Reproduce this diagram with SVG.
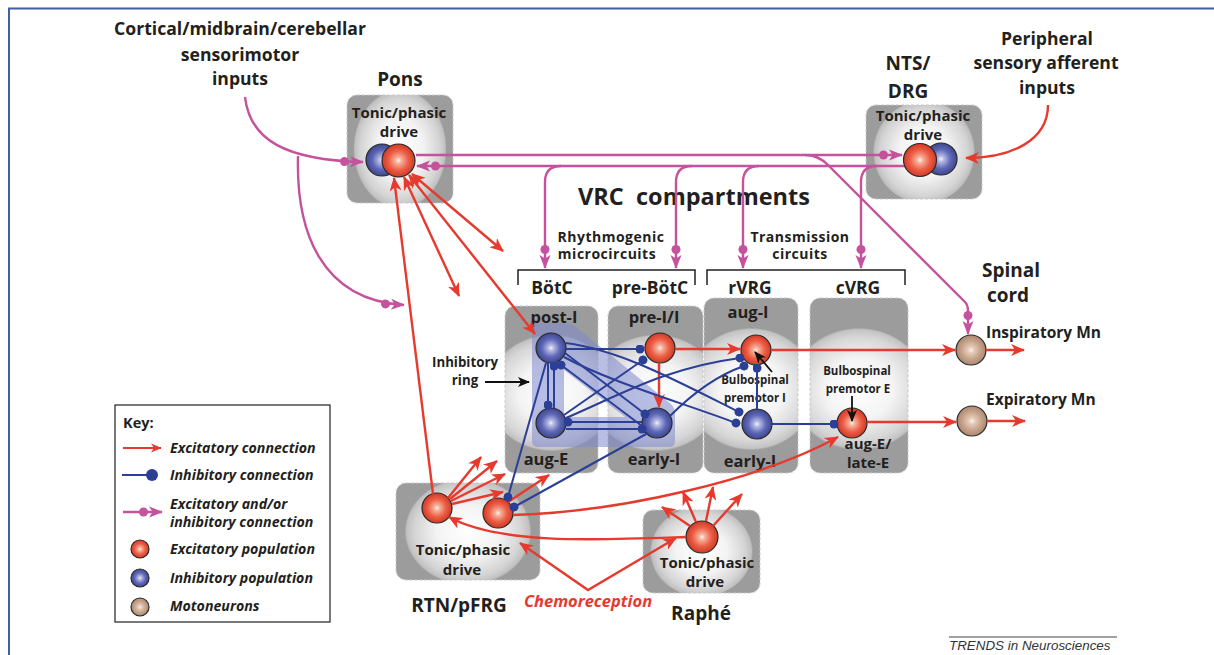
<svg xmlns="http://www.w3.org/2000/svg" width="1214" height="655" viewBox="0 0 1214 655">
  <style>
    .t { font-family: "Open Sans", "Liberation Sans", sans-serif; font-weight: 700; fill: #231f20; text-anchor: middle; }
    .h1 { font-size: 23.5px; }
    .h2 { font-size: 19px; }
    .h3 { font-size: 17.6px; }
    .col { font-size: 17.5px; }
    .lab { font-size: 16.5px; }
    .drv { font-size: 15px; }
    .sub { font-size: 14px; letter-spacing: 0.5px; }
    .sm { font-size: 11.5px; }
    .key { font-family: "Open Sans", "Liberation Sans", sans-serif; font-weight: 700; font-style: italic; font-size: 14.2px; fill: #231f20; }
    .chemo { font-family: "Open Sans", "Liberation Sans", sans-serif; font-weight: 700; font-style: italic; font-size: 16.5px; fill: #e63a2e; text-anchor: middle; }
    .box { stroke: #c9c9c9; stroke-width: 1; stroke-dasharray: 3 2; }
    .tall { fill: url(#glowTall); }
    .sq { fill: url(#glowSq); }
    .cell { stroke: #2a2a2a; stroke-width: 1.2; }
    .exc { fill: url(#gRed); }
    .inh { fill: url(#gBlue); }
    .mn { fill: url(#gTan); }
    .rd { fill: none; stroke: #e63a2e; stroke-width: 2.4; marker-end: url(#arR); }
    .rd2 { marker-start: url(#arR); }
    .bl { fill: none; stroke: #2b3f96; stroke-width: 2; marker-end: url(#dotB); }
    .pk { fill: none; stroke: #c4529c; stroke-width: 2.4; marker-end: url(#arP); }
    .pkl { fill: none; stroke: #c4529c; stroke-width: 2.4; }
    .bk { fill: none; stroke: #111; stroke-width: 1.8; marker-end: url(#arK); }
  </style>
  <defs>
    <radialGradient id="glowTall" cx="0.5" cy="0.52" r="0.5" gradientTransform="translate(0.5 0.52) scale(1.4 0.7) translate(-0.5 -0.52)">
      <stop offset="0" stop-color="#ffffff"/>
      <stop offset="0.5" stop-color="#f4f4f4"/>
      <stop offset="0.85" stop-color="#d6d6d6"/>
      <stop offset="0.97" stop-color="#c3c3c3"/>
      <stop offset="1" stop-color="#9c9c9c"/>
    </radialGradient>
    <radialGradient id="glowSq" cx="0.5" cy="0.5" r="0.5" gradientTransform="translate(0.5 0.5) scale(0.88 1.1) translate(-0.5 -0.5)">
      <stop offset="0" stop-color="#ffffff"/>
      <stop offset="0.5" stop-color="#f3f3f3"/>
      <stop offset="0.85" stop-color="#d4d4d4"/>
      <stop offset="0.97" stop-color="#c0c0c0"/>
      <stop offset="1" stop-color="#9c9c9c"/>
    </radialGradient>
    <radialGradient id="gRed" cx="0.5" cy="0.5" r="0.5">
      <stop offset="0" stop-color="#fff3ec"/>
      <stop offset="0.18" stop-color="#f6b29c"/>
      <stop offset="0.6" stop-color="#ec5e46"/>
      <stop offset="1" stop-color="#d23925"/>
    </radialGradient>
    <radialGradient id="gBlue" cx="0.5" cy="0.5" r="0.5">
      <stop offset="0" stop-color="#f2f2fb"/>
      <stop offset="0.18" stop-color="#b6bbe4"/>
      <stop offset="0.6" stop-color="#5f68b6"/>
      <stop offset="1" stop-color="#3d468f"/>
    </radialGradient>
    <radialGradient id="gTan" cx="0.5" cy="0.5" r="0.5">
      <stop offset="0" stop-color="#fbf2ea"/>
      <stop offset="0.2" stop-color="#e6cdbb"/>
      <stop offset="0.6" stop-color="#c9a58d"/>
      <stop offset="1" stop-color="#ab8770"/>
    </radialGradient>
    <marker id="arR" viewBox="0 0 14 12" refX="13" refY="6" markerWidth="14" markerHeight="12" orient="auto-start-reverse" markerUnits="userSpaceOnUse">
      <path d="M0,0 L14,6 L0,12 L4,6 Z" fill="#e63a2e"/>
    </marker>
    <marker id="arRs" viewBox="0 0 14 12" refX="13" refY="6" markerWidth="11" markerHeight="9.5" orient="auto" markerUnits="userSpaceOnUse">
      <path d="M0,0 L14,6 L0,12 L4,6 Z" fill="#e63a2e"/>
    </marker>
    <marker id="dotB" viewBox="0 0 10 10" refX="5" refY="5" markerWidth="9" markerHeight="9" orient="auto" markerUnits="userSpaceOnUse">
      <circle cx="5" cy="5" r="5" fill="#2b3f96"/>
    </marker>
    <marker id="dotBk" viewBox="0 0 10 10" refX="5" refY="5" markerWidth="12" markerHeight="12" orient="auto" markerUnits="userSpaceOnUse">
      <circle cx="5" cy="5" r="5" fill="#2b3f96"/>
    </marker>
    <marker id="arP" viewBox="0 0 24 12" refX="23" refY="6" markerWidth="24" markerHeight="12" orient="auto" markerUnits="userSpaceOnUse">
      <circle cx="4.5" cy="6" r="4.5" fill="#c4529c"/>
      <path d="M10,0.5 L24,6 L10,11.5 L13.5,6 Z" fill="#c4529c"/>
    </marker>
    <marker id="arK" viewBox="0 0 12 10" refX="11" refY="5" markerWidth="12" markerHeight="10" orient="auto" markerUnits="userSpaceOnUse">
      <path d="M0,0 L12,5 L0,10 L3,5 Z" fill="#111"/>
    </marker>
  </defs>

  <rect width="1214" height="655" fill="#ffffff"/>
  <!-- page frame -->
  <path d="M9,655 L9,8.5 L1214,8.5" fill="none" stroke="#3f5fa6" stroke-width="2"/>

  <!-- input labels -->
  <g id="cortical-inputs">
    <text class="t h3" x="240" y="35">Cortical/midbrain/cerebellar</text>
    <text class="t h3" x="240" y="61">sensorimotor</text>
    <text class="t h3" x="240" y="85">inputs</text>
  </g>
  <g id="peripheral-inputs">
    <text class="t h3" x="1047" y="45">Peripheral</text>
    <text class="t h3" x="1046" y="69">sensory afferent</text>
    <text class="t h3" x="1047" y="94">inputs</text>
  </g>

  <!-- Pons -->
  <g id="pons">
    <text class="t h2" x="400" y="86">Pons</text>
    <rect class="box sq" x="347" y="95" width="106" height="108" rx="10"/>
    <text class="t drv" x="399" y="118">Tonic/phasic</text>
    <text class="t drv" x="399" y="137">drive</text>
  </g>

  <!-- NTS/DRG -->
  <g id="nts-drg">
    <text class="t h2" x="908" y="70">NTS/</text>
    <text class="t h2" x="908" y="98">DRG</text>
    <rect class="box sq" x="866" y="105" width="116" height="94" rx="10"/>
    <text class="t drv" x="923" y="121">Tonic/phasic</text>
    <text class="t drv" x="923" y="140">drive</text>
  </g>

  <!-- VRC headings -->
  <g id="vrc-heading">
    <text class="t h1" x="694" y="205" xml:space="preserve">VRC  compartments</text>
    <text class="t sub" x="611" y="242">Rhythmogenic</text>
    <text class="t sub" x="607" y="259">microcircuits</text>
    <text class="t sub" x="800" y="242">Transmission</text>
    <text class="t sub" x="800" y="259">circuits</text>
    <path d="M518,285 L518,270 L695,270 L695,285 M707,285 L707,270 L905,270 L905,285" fill="none" stroke="#231f20" stroke-width="1.5"/>
  </g>

  <!-- VRC compartments -->
  <g id="botc">
    <text class="t col" x="552" y="294">BötC</text>
    <rect class="box tall" x="505" y="306" width="93" height="167" rx="10"/>
    <text class="t lab" x="554" y="323">post-I</text>
    <text class="t lab" x="546" y="465">aug-E</text>
  </g>
  <g id="pre-botc">
    <text class="t col" x="650" y="294">pre-BötC</text>
    <rect class="box tall" x="608" y="306" width="95" height="167" rx="10"/>
    <text class="t lab" x="654" y="323">pre-I/I</text>
    <text class="t lab" x="654" y="465">early-I</text>
  </g>
  <g id="rvrg">
    <text class="t col" x="750" y="294">rVRG</text>
    <rect class="box tall" x="704" y="298" width="94" height="175" rx="10"/>
    <text class="t lab" x="748" y="318">aug-I</text>
    <text class="t lab" x="750" y="467">early-I</text>
    <text class="t sm" x="755" y="384">Bulbospinal</text>
    <text class="t sm" x="755" y="402">premotor I</text>
  </g>
  <g id="cvrg">
    <text class="t col" x="858" y="294">cVRG</text>
    <rect class="box tall" x="810" y="298" width="98" height="175" rx="10"/>
    <text class="t sm" x="857" y="375">Bulbospinal</text>
    <text class="t sm" x="858" y="393">premotor E</text>
    <text class="t lab" x="868" y="449" style="font-size:15px">aug-E/</text>
    <text class="t lab" x="868" y="468" style="font-size:15px">late-E</text>
  </g>

  <!-- inhibitory ring band -->
  <g id="inhibitory-ring">
    <path d="M537,323 L565,323 Q571,323 576,327 L671,404 Q675,408 675,414 L675,441 Q675,447 669,447 L538,447 Q532,447 532,441 L532,328 Q532,323 537,323 Z M564,370 L564,417 L625,417 Z" fill="#7f8acd" fill-opacity="0.55" fill-rule="evenodd"/>
    <text class="t sm" x="465" y="367" style="font-size:13.3px">Inhibitory</text>
    <text class="t sm" x="465" y="385" style="font-size:13.3px">ring</text>
  </g>

  <!-- RTN/pFRG -->
  <g id="rtn-pfrg">
    <rect class="box sq" x="396" y="483" width="144" height="97" rx="10"/>
    <text class="t drv" x="463" y="555">Tonic/phasic</text>
    <text class="t drv" x="462" y="575">drive</text>
    <text class="t h2" x="459" y="612">RTN/pFRG</text>
  </g>

  <!-- Raphe -->
  <g id="raphe">
    <rect class="box sq" x="643" y="510" width="117" height="83" rx="10"/>
    <text class="t drv" x="707" y="568">Tonic/phasic</text>
    <text class="t drv" x="705" y="587">drive</text>
    <text class="t h2" x="701" y="620">Raphé</text>
  </g>

  <!-- Spinal cord -->
  <g id="spinal-cord">
    <text class="t h2" x="1011" y="277">Spinal</text>
    <text class="t h2" x="1008" y="302">cord</text>
    <text class="t lab" x="986" y="338" style="text-anchor:start;font-size:15.5px">Inspiratory Mn</text>
    <text class="t lab" x="986" y="405" style="text-anchor:start;font-size:15.5px">Expiratory Mn</text>
  </g>

  <!-- neuron populations -->
  <g id="pons-inh"><circle class="cell inh" cx="382" cy="160" r="16"/></g>
  <g id="pons-exc"><circle class="cell exc" cx="398.5" cy="160.5" r="16.5"/></g>
  <g id="nts-inh"><circle class="cell inh" cx="941" cy="159" r="16"/></g>
  <g id="nts-exc"><circle class="cell exc" cx="920" cy="160" r="16.5"/></g>
  <g id="post-i"><circle class="cell inh" cx="551" cy="348" r="15"/></g>
  <g id="aug-e"><circle class="cell inh" cx="551" cy="423" r="15"/></g>
  <g id="pre-i"><circle class="cell exc" cx="660" cy="348" r="15"/></g>
  <g id="early-i-prebotc"><circle class="cell inh" cx="657" cy="423" r="15"/></g>
  <g id="aug-i"><circle class="cell exc" cx="756" cy="350" r="15"/></g>
  <g id="early-i-rvrg"><circle class="cell inh" cx="757" cy="424" r="15"/></g>
  <g id="aug-e-late-e"><circle class="cell exc" cx="852" cy="423" r="15"/></g>
  <g id="rtn-1"><circle class="cell exc" cx="437" cy="508" r="15"/></g>
  <g id="rtn-2"><circle class="cell exc" cx="498" cy="513" r="15"/></g>
  <g id="raphe-cell"><circle class="cell exc" cx="702" cy="537" r="16"/></g>
  <g id="insp-mn"><circle class="cell mn" cx="971" cy="350" r="15"/></g>
  <g id="exp-mn"><circle class="cell mn" cx="972" cy="421" r="15"/></g>

  <!-- connectors -->
  <g id="connectors">
    <!-- excitatory and/or inhibitory -->
    <path class="pk" d="M245,97 C250,140 285,160 363,162"/>
    <path class="pk" d="M298,156 C296,230 320,300 404,305"/>
    <path class="pk" d="M416,155 L902,155"/>
    <path class="pk" d="M904,166 L417,166"/>
    <path class="pk" d="M561,166 Q545,166 545,182 L545,268"/>
    <path class="pk" d="M692,166 Q676,166 676,182 L676,268"/>
    <path class="pk" d="M759,166 Q743,166 743,182 L743,268"/>
    <path class="pk" d="M877,166 Q861,166 861,182 L861,268"/>
    <path class="pk" d="M805,155 Q818,155 828,165 L965,302 Q968,305 968,311 L968,334"/>

    <!-- excitatory -->
    <path class="rd" d="M1048,105 C1048,140 1012,158 966,158"/>
    <path class="rd" d="M433,494 L394,178"/>
    <path class="rd rd2" d="M404,177 L459,296"/>
    <path class="rd rd2" d="M412,174 L503,251"/>
    <path class="rd rd2" d="M409,175 L535,334"/>
    <path class="rd" d="M675,349 L740,349"/>
    <path class="rd" d="M659,363 L659,407"/>
    <path class="rd" d="M771,350 L955,350"/>
    <path class="rd" d="M986,350 L1024,350"/>
    <path class="rd" d="M867,422 L956,422"/>
    <path class="rd" d="M987,421 L1025,421"/>
    <path class="rd" d="M513,515 C620,512 760,480 838,437"/>
    <path class="rd" d="M448,498 L481,457"/>
    <path class="rd" d="M450,499 L497,461"/>
    <path class="rd" d="M451,501 L505,474"/>
    <path class="rd" d="M452,504 L503,492"/>
    <path class="rd" d="M508,502 L549,475"/>
    <path class="rd" d="M690,526 L662,507"/>
    <path class="rd" d="M696,522 L683,492"/>
    <path class="rd" d="M706,521 L713,487"/>
    <path class="rd" d="M713,526 L742,494"/>
    <path class="rd" d="M686,537 C600,540 500,545 449,517"/>
    <path class="rd rd2" d="M520,543 L588,590 L676,538"/>

    <!-- inhibitory -->
    <path class="bl" d="M566,349 L640,349"/>
    <path class="bl" d="M564,415 L643,360"/>
    <path class="bl" d="M566,418 C620,395 665,368 740,358"/>
    <path class="bl" d="M670,416 C690,396 715,376 744,366"/>
    <path class="bl" d="M565,353 L645,414"/>
    <path class="bl" d="M642,426 L561,365"/>
    <path class="bl" d="M566,343 C620,350 675,380 739,412"/>
    <path class="bl" d="M564,357 C610,382 680,402 736,423"/>
    <path class="bl" d="M548,363 L548,405"/>
    <path class="bl" d="M554,408 L554,366"/>
    <path class="bl" d="M642,422 L568,422"/>
    <path class="bl" d="M566,429 L642,429"/>
    <path class="bl" d="M757,409 L757,368"/>
    <path class="bl" d="M772,424 L834,424"/>
    <path class="bl" d="M546,363 L508,497"/>
    <path class="bl" d="M648,433 L514,507"/>

    <!-- pointers -->
    <path class="bk" d="M485,382 L529,382"/>
    <path class="bk" d="M772,372 L755,352"/>
    <path class="bk" d="M852,396 L852,421"/>
  </g>

  <text class="chemo" x="588" y="607">Chemoreception</text>

  <!-- key -->
  <g id="key">
    <rect x="115" y="405" width="215" height="217" fill="#ffffff" stroke="#231f20" stroke-width="1.2"/>
    <text class="t" x="123" y="428" style="text-anchor:start;font-size:14.5px">Key:</text>
    <path d="M123,448 L161,448" fill="none" stroke="#e63a2e" stroke-width="2" marker-end="url(#arRs)"/>
    <path d="M122,475 L152,475" fill="none" stroke="#2b3f96" stroke-width="2" marker-end="url(#dotBk)"/>
    <path d="M123,512 L162,512" class="pkl" stroke-width="2" marker-end="url(#arP)"/>
    <circle class="cell exc" cx="140" cy="549" r="9"/>
    <circle class="cell inh" cx="140" cy="578" r="9"/>
    <circle class="cell mn" cx="140" cy="607" r="9"/>
    <text class="key" x="170" y="453">Excitatory connection</text>
    <text class="key" x="170" y="480">Inhibitory connection</text>
    <text class="key" x="170" y="509">Excitatory and/or</text>
    <text class="key" x="170" y="527">inhibitory connection</text>
    <text class="key" x="170" y="554">Excitatory population</text>
    <text class="key" x="170" y="583">Inhibitory population</text>
    <text class="key" x="170" y="611">Motoneurons</text>
  </g>

  <!-- journal credit -->
  <g id="credit">
    <line x1="949" y1="637" x2="1117" y2="637" stroke="#444" stroke-width="1"/>
    <text x="949" y="650" style="font-family:'Liberation Sans',Arial,sans-serif;font-style:italic;font-size:13.4px;fill:#333">TRENDS in Neurosciences</text>
  </g>
</svg>
